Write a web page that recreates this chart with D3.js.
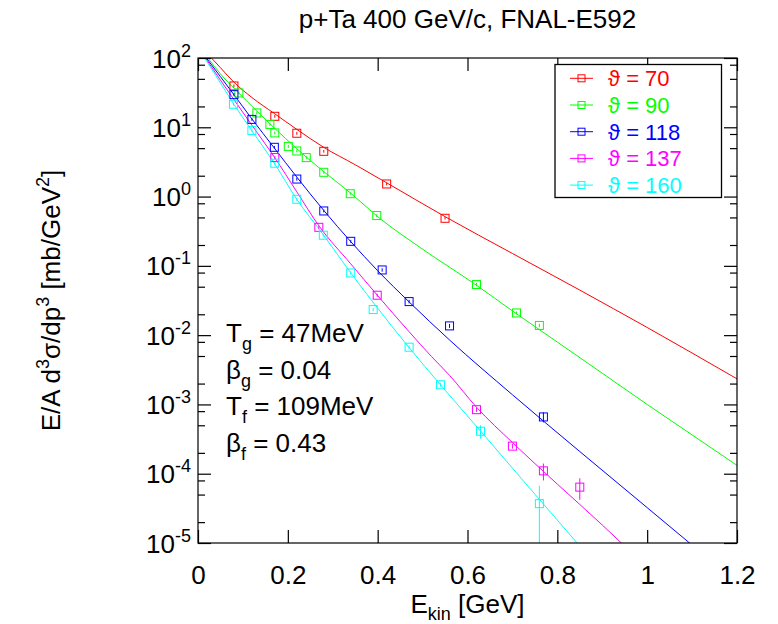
<!DOCTYPE html>
<html>
<head>
<meta charset="utf-8">
<script src="https://cdn.jsdelivr.net/npm/d3@7"></script>
<style>
  body { margin: 0; background: #fff; }
  text { font-family: "Liberation Sans", Arial, Helvetica, sans-serif; }
</style>
</head>
<body>
<svg width="778" height="624"></svg>
<script>
var angles = [70, 90, 118, 137, 160];
var colors = ["#ff0000", "#00ff00", "#0000ff", "#ff00ff", "#00ffff"];

// measured points: E_kin [GeV], E/A d3s/dp3 [mb/GeV^2], error
var e70  = [0.080, 0.171, 0.220, 0.280, 0.420, 0.550];
var v70  = [39.5, 14.4, 8.2, 4.5, 1.52, 0.486];
var d70  = [2, 0.7, 0.4, 0.2, 0.07, 0.02];

var e90  = [0.091, 0.131, 0.160, 0.171, 0.201, 0.220, 0.241, 0.280, 0.339, 0.398, 0.620, 0.709, 0.760];
var v90  = [31.3, 16.1, 11.0, 8.3, 5.3, 4.55, 3.65, 2.24, 1.10, 0.532, 0.0537, 0.0209, 0.0138];
var d90  = [1.5, 0.8, 0.5, 0.4, 0.25, 0.2, 0.18, 0.1, 0.05, 0.025, 0.003, 0.001, 0.0008];

var e118 = [0.080, 0.120, 0.170, 0.220, 0.280, 0.340, 0.410, 0.470, 0.560, 0.769];
var v118 = [29.6, 13.0, 5.14, 1.79, 0.62, 0.226, 0.0873, 0.0305, 0.0136, 6.6e-4];
var d118 = [1.5, 0.6, 0.25, 0.09, 0.03, 0.011, 0.005, 0.0018, 0.0009, 1.1e-4];

var e137 = [0.171, 0.269, 0.399, 0.620, 0.700, 0.769, 0.850];
var v137 = [3.66, 0.36, 0.0377, 8.4e-4, 2.5e-4, 1.1e-4, 6.4e-5];
var d137 = [0.18, 0.02, 0.002, 6e-5, 2e-5, 3e-5, 2.2e-5];

var e160 = [0.079, 0.120, 0.171, 0.220, 0.279, 0.340, 0.390, 0.470, 0.540, 0.629, 0.760];
var v160 = [21.5, 8.96, 3.03, 0.914, 0.277, 0.079, 0.0234, 6.7e-3, 1.92e-3, 4.1e-4, 3.7e-5];
var d160 = [1, 0.45, 0.15, 0.045, 0.014, 0.004, 0.0012, 4e-4, 1.2e-4, 9e-5, 3e-5];

// model curves
var fe70  = [0.030, 0.05, 0.08, 0.12, 0.17, 0.22, 0.28, 0.35, 0.42, 0.55, 0.70, 0.85, 1.00, 1.20];
var fv70  = [100, 72.4, 44.7, 26.9, 15.8, 9.33, 5.13, 2.88, 1.58, 0.513, 0.151, 0.0447, 0.0129, 2.34e-3];
var fe90  = [0.022, 0.05, 0.09, 0.13, 0.17, 0.22, 0.28, 0.34, 0.40, 0.50, 0.62, 0.70, 0.80, 0.90, 1.00, 1.10, 1.20];
var fv90  = [100, 58.9, 31.6, 17.4, 9.77, 4.90, 2.29, 1.12, 0.513, 0.174, 0.0525, 0.0224, 7.94e-3, 2.82e-3, 1.0e-3, 3.63e-4, 1.32e-4];
var fe118 = [0.0187, 0.05, 0.08, 0.12, 0.17, 0.22, 0.28, 0.34, 0.40, 0.47, 0.56, 0.70, 0.85, 1.00, 1.10];
var fv118 = [100, 53.7, 29.5, 13.2, 5.01, 1.91, 0.631, 0.224, 0.0851, 0.0302, 8.51e-3, 1.38e-3, 2.09e-4, 3.24e-5, 9.33e-6];
var fe137 = [0.0165, 0.05, 0.08, 0.12, 0.17, 0.22, 0.27, 0.34, 0.40, 0.47, 0.52, 0.56, 0.62, 0.70, 0.80, 0.90, 0.95];
var fv137 = [100, 47.9, 25.1, 10.7, 3.72, 1.17, 0.372, 0.107, 0.0372, 0.0112, 4.9e-3, 2.63e-3, 9.12e-4, 2.82e-4, 7.08e-5, 1.82e-5, 9.0e-6];
var fe160 = [0.015, 0.05, 0.08, 0.12, 0.17, 0.22, 0.28, 0.34, 0.40, 0.47, 0.54, 0.63, 0.72, 0.80, 0.85];
var fv160 = [100, 43.7, 21.4, 8.91, 3.02, 0.912, 0.275, 0.0794, 0.0245, 6.61e-3, 1.91e-3, 4.07e-4, 8.51e-5, 2.14e-5, 9.0e-6];

var xTicks = [0, 0.2, 0.4, 0.6, 0.8, 1, 1.2];
var yTicks = [1e-5, 1e-4, 1e-3, 1e-2, 1e-1, 1, 10, 100];
var yExp = ["-5", "-4", "-3", "-2", "-1", "0", "1", "2"];
var yMinor = [];
[-5, -4, -3, -2, -1, 0, 1].forEach(function (p) {
  [2, 5, 8].forEach(function (m) { yMinor.push(m * Math.pow(10, p)); });
});

var points = [[e70, v70, d70], [e90, v90, d90], [e118, v118, d118], [e137, v137, d137], [e160, v160, d160]];
var fits = [[fe70, fv70], [fe90, fv90], [fe118, fv118], [fe137, fv137], [fe160, fv160]];

var svg = d3.select("svg"),
    margin = {top: 58, left: 198},
    width = 539,
    height = 485,
    g = svg.append("g").attr("transform", "translate(" + margin.left + "," + margin.top + ")");

var x = d3.scaleLinear().domain([0, 1.2]).range([0, width]);
var y = d3.scaleLog().domain([1e-5, 1e2]).range([height, 0]);

g.append("clipPath").attr("id", "clip")
  .append("rect").attr("width", width).attr("height", height);

var plot = g.append("g").attr("clip-path", "url(#clip)");

var line = d3.line()
    .x(function (d) { return x(d[0]); })
    .y(function (d) { return y(d[1]); })
    .curve(d3.curveMonotoneX);

fits.forEach(function (f, i) {
  plot.append("path")
    .datum(f[0].map(function (e, k) { return [e, f[1][k]]; }))
    .attr("fill", "none")
    .attr("stroke", colors[i])
    .attr("stroke-width", 1)
    .attr("d", line);
});

points.forEach(function (p, i) {
  var data = p[0].map(function (e, k) { return {e: e, v: p[1][k], d: p[2][k]}; });
  var s = plot.append("g").attr("class", "series");
  s.selectAll("line.err")
    .data(data)
    .enter().append("line")
      .attr("class", "err")
      .attr("x1", function (d) { return x(d.e); })
      .attr("x2", function (d) { return x(d.e); })
      .attr("y1", function (d) { return y(d.v + d.d); })
      .attr("y2", function (d) { return d.v - d.d > 0 ? y(d.v - d.d) : height + 5; })
      .attr("stroke", colors[i])
      .attr("stroke-width", 1);
  s.selectAll("rect")
    .data(data)
    .enter().append("rect")
      .attr("x", function (d) { return x(d.e) - 4; })
      .attr("y", function (d) { return y(d.v) - 4; })
      .attr("width", 8)
      .attr("height", 8)
      .attr("fill", "none")
      .attr("stroke", colors[i])
      .attr("stroke-width", 1);
});

// axes, ticks pointing inwards
var styleAxis = function (sel) {
  sel.select(".domain").remove();
  sel.selectAll("line").attr("stroke", "#000").attr("stroke-width", 1.2);
};

var xb = g.append("g")
    .attr("transform", "translate(0," + height + ")")
    .call(d3.axisBottom(x).tickValues(xTicks).tickSize(-13).tickFormat(d3.format("")));
styleAxis(xb);
xb.selectAll("text")
    .attr("y", 41).attr("dy", null)
    .attr("font-size", 26).attr("fill", "#000");

g.append("g")
    .call(d3.axisTop(x).tickValues(xTicks).tickSize(-13).tickFormat(""))
    .call(styleAxis);

var yl = g.append("g")
    .call(d3.axisLeft(y).tickValues(yTicks).tickSize(-13).tickPadding(7));
styleAxis(yl);
yl.selectAll("text")
    .attr("dy", null).attr("y", 9)
    .attr("font-size", 26).attr("fill", "#000")
    .each(function (d, i) {
      var t = d3.select(this).text("");
      t.append("tspan").text("10");
      t.append("tspan").attr("dy", -11).attr("font-size", 18).text(yExp[i]);
    });
g.append("g").call(d3.axisLeft(y).tickValues(yMinor).tickSize(-7).tickFormat("")).call(styleAxis);

g.append("g")
    .attr("transform", "translate(" + width + ",0)")
    .call(d3.axisRight(y).tickValues(yTicks).tickSize(-13).tickFormat(""))
    .call(styleAxis);
g.append("g")
    .attr("transform", "translate(" + width + ",0)")
    .call(d3.axisRight(y).tickValues(yMinor).tickSize(-7).tickFormat(""))
    .call(styleAxis);

g.append("rect")
    .attr("width", width).attr("height", height)
    .attr("fill", "none").attr("stroke", "#000").attr("stroke-width", 1.2);

// titles
svg.append("text")
    .attr("x", margin.left + width / 2).attr("y", 28)
    .attr("text-anchor", "middle").attr("font-size", 26)
    .text("p+Ta 400 GeV/c, FNAL-E592");

var xlab = svg.append("text")
    .attr("x", margin.left + width / 2).attr("y", 613)
    .attr("text-anchor", "middle").attr("font-size", 26);
xlab.append("tspan").text("E");
xlab.append("tspan").attr("dy", 7).attr("font-size", 18).text("kin");
xlab.append("tspan").attr("dy", -7).text(" [GeV]");

var ylab = svg.append("text")
    .attr("transform", "translate(60," + (margin.top + height / 2) + ") rotate(-90)")
    .attr("text-anchor", "middle").attr("font-size", 26);
ylab.append("tspan").text("E/A d");
ylab.append("tspan").attr("dy", -11).attr("font-size", 18).text("3");
ylab.append("tspan").attr("dy", 11).text("σ/dp");
ylab.append("tspan").attr("dy", -11).attr("font-size", 18).text("3");
ylab.append("tspan").attr("dy", 11).text(" [mb/GeV");
ylab.append("tspan").attr("dy", -11).attr("font-size", 18).text("2");
ylab.append("tspan").attr("dy", 11).text("]");

// fit parameters
var params = [["T", "g", " = 47MeV"], ["β", "g", " = 0.04"], ["T", "f", " = 109MeV"], ["β", "f", " = 0.43"]];
params.forEach(function (p, i) {
  var t = svg.append("text")
      .attr("x", 226).attr("y", 342 + i * 36.5)
      .attr("font-size", 26);
  t.append("tspan").text(p[0]);
  t.append("tspan").attr("dy", 8).attr("font-size", 18).text(p[1]);
  t.append("tspan").attr("dy", -8).text(p[2]);
});

// legend
var leg = svg.append("g");
leg.append("rect")
    .attr("x", 555).attr("y", 64.5).attr("width", 166.5).attr("height", 133)
    .attr("fill", "#fff").attr("stroke", "#000").attr("stroke-width", 1.3);
angles.forEach(function (a, i) {
  var cy = 78.3 + i * 26.7;
  leg.append("line")
      .attr("x1", 570).attr("x2", 593).attr("y1", cy).attr("y2", cy)
      .attr("stroke", colors[i]).attr("stroke-width", 1);
  leg.append("rect")
      .attr("x", 578).attr("y", cy - 3.5).attr("width", 7).attr("height", 7)
      .attr("fill", "none").attr("stroke", colors[i]).attr("stroke-width", 1);
  leg.append("text")
      .attr("x", 608).attr("y", cy + 8)
      .attr("font-size", 22).attr("fill", colors[i])
      .text("ϑ = " + a);
});
</script>
</body>
</html>
